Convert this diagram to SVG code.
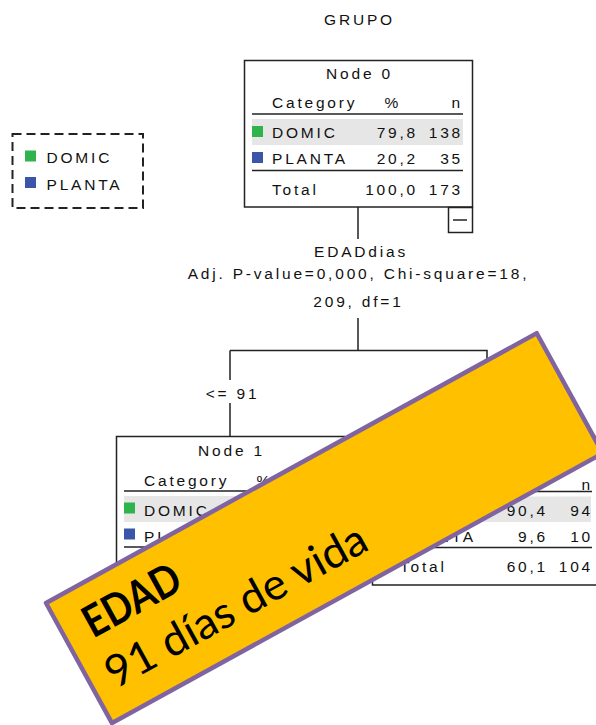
<svg xmlns="http://www.w3.org/2000/svg" width="596" height="725" viewBox="0 0 596 725">
<style>
.t{font-family:"Liberation Sans",Arial,sans-serif;font-size:15.5px;letter-spacing:2.8px;fill:#111}
.m{text-anchor:middle}
.e{text-anchor:end}
.box{fill:#fff;stroke:#222;stroke-width:1.5}
.ln{stroke:#222;stroke-width:1.5;fill:none}
.bg{fill:#e6e6e6}
.g{fill:#2fb44b}
.b{fill:#3b56a8}
.bt{font-family:Lato,"Open Sans",sans-serif;font-size:44px;fill:#000}
</style>
<rect width="596" height="725" fill="#fff"/>
<text class="t m" x="359.5" y="25">GRUPO</text>

<g id="legend">
<rect x="12.5" y="134" width="130.5" height="74" fill="none" stroke="#222" stroke-width="2" stroke-dasharray="9 5"/>
<rect class="g" x="25" y="150.5" width="11" height="11"/>
<text class="t" x="46.5" y="163">DOMIC</text>
<rect class="b" x="25" y="177" width="11" height="11"/>
<text class="t" x="46.5" y="190">PLANTA</text>
</g>

<g id="connectors">
<path class="ln" d="M358,207 V239 M358,318 V350.5 M230,350.5 H487 V436.5 M230,350.5 V380 M230,403 V436.5"/>
<text class="t m" x="361" y="256.5">EDADdias</text>
<text class="t m" x="358.5" y="279">Adj. P-value=0,000, Chi-square=18,</text>
<text class="t m" x="358.5" y="307">209, df=1</text>
<text class="t m" x="232.5" y="399">&lt;= 91</text>
</g>

<g id="node0">
<rect class="box" x="244.5" y="60.5" width="228" height="146.5"/>
<text class="t m" x="359.5" y="79">Node 0</text>
<text class="t" x="272" y="108">Category</text>
<text class="t e" x="401" y="108">%</text>
<text class="t e" x="463" y="108">n</text>
<path class="ln" d="M252,114 H463"/>
<rect class="bg" x="252" y="119" width="211" height="26"/>
<rect class="g" x="252" y="126" width="11" height="11"/>
<text class="t" x="272" y="138">DOMIC</text>
<text class="t e" x="418" y="138">79,8</text>
<text class="t e" x="463" y="138">138</text>
<rect class="b" x="252" y="152" width="11" height="11"/>
<text class="t" x="272" y="164">PLANTA</text>
<text class="t e" x="418" y="164">20,2</text>
<text class="t e" x="463" y="164">35</text>
<path class="ln" d="M252,170.5 H463"/>
<text class="t" x="272" y="195">Total</text>
<text class="t e" x="418" y="195">100,0</text>
<text class="t e" x="463" y="195">173</text>
<rect class="box" x="448.5" y="207.5" width="24" height="25"/>
<path class="ln" d="M453,220 H467"/>
</g>

<g id="node1">
<rect class="box" x="116.5" y="436.5" width="228" height="148"/>
<text class="t m" x="231.5" y="455.5">Node 1</text>
<text class="t" x="144" y="485.5">Category</text>
<text class="t e" x="273" y="485.5">%</text>
<path class="ln" d="M124,491 H335"/>
<rect class="bg" x="124" y="496" width="211" height="26"/>
<rect class="g" x="124" y="502.5" width="11" height="11"/>
<text class="t" x="144" y="516">DOMIC</text>
<rect class="b" x="124" y="528.5" width="11" height="11"/>
<text class="t" x="144" y="541.5">PLANTA</text>
<path class="ln" d="M124,547 H335"/>
</g>

<g id="node2">
<rect class="box" x="372.5" y="436.5" width="230" height="148.5"/>
<text class="t e" x="593" y="490">n</text>
<path class="ln" d="M380,491.5 H592"/>
<rect class="bg" x="380" y="496.5" width="211" height="25.5"/>
<rect class="g" x="380" y="503" width="11" height="11"/>
<text class="t" x="400" y="516">DOMIC</text>
<text class="t e" x="548" y="516">90,4</text>
<text class="t e" x="593" y="516">94</text>
<rect class="b" x="380" y="529" width="11" height="11"/>
<text class="t" x="400" y="542">PLANTA</text>
<text class="t e" x="548" y="542">9,6</text>
<text class="t e" x="593" y="542">10</text>
<path class="ln" d="M380,547.5 H592"/>
<text class="t" x="400" y="572">Total</text>
<text class="t e" x="548" y="572">60,1</text>
<text class="t e" x="593" y="572">104</text>
</g>

<g id="banner" transform="translate(46,603) rotate(-28.8)">
<rect x="0" y="0" width="560" height="137" fill="#ffc000" stroke="#8064a2" stroke-width="4.5" stroke-linejoin="round"/>
<text class="bt" x="24" y="54" font-weight="bold" textLength="105" lengthAdjust="spacingAndGlyphs">EDAD</text>
<text class="bt" x="19" y="109" textLength="292" lengthAdjust="spacingAndGlyphs">91 días de vida</text>
</g>
</svg>
